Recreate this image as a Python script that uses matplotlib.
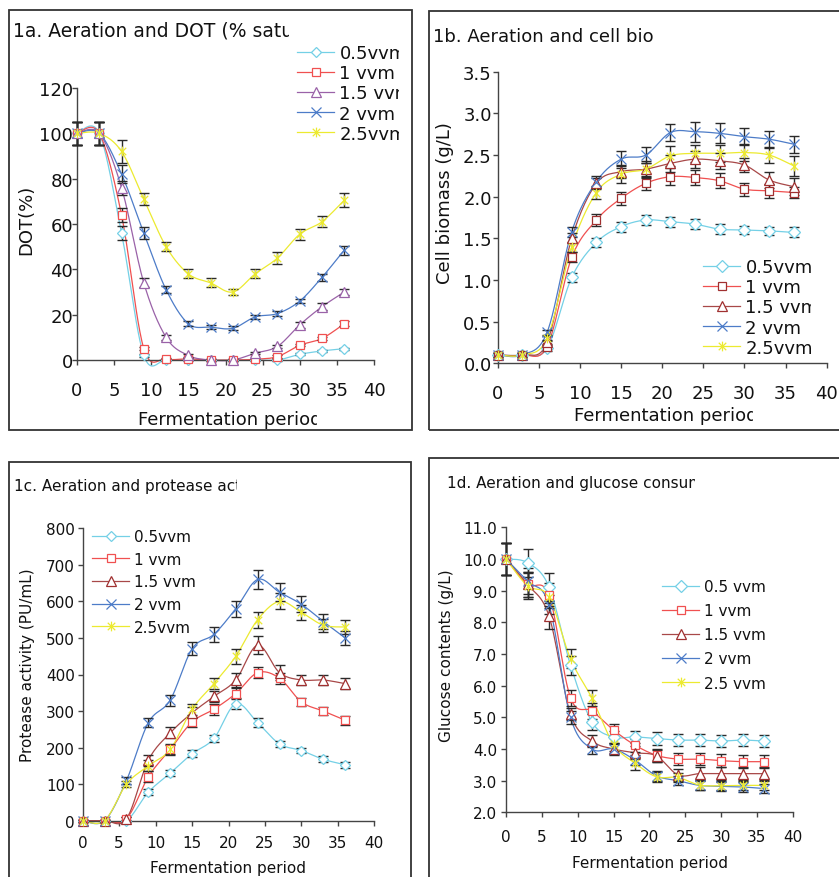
import numpy as np
import matplotlib
matplotlib.use("Agg")
import matplotlib.pyplot as plt
from matplotlib.lines import Line2D
from matplotlib.path import Path
from matplotlib.patches import Rectangle
from matplotlib.transforms import Bbox, TransformedBbox

plt.rcParams['font.family'] = ['DejaVu Sans']

W, H, DPI = 839, 878, 100

hours = [0, 3, 6, 9, 12, 15, 18, 21, 24, 27, 30, 33, 36]
labels_abc = ['0.5vvm', '1 vvm', '1.5 vvm', '2 vvm', '2.5vvm']
labels_d = ['0.5 vvm', '1 vvm', '1.5 vvm', '2 vvm', '2.5 vvm']

# ---- 1a: DOT (%)
dot_05 = [100, 100, 56, 2, 0, 0, 0, 0, 0, 0, 2.5, 4, 5]
dot_1 = [100, 100, 64, 5, 0.5, 0.5, 0, 0, 0.3, 1.5, 6.5, 9.5, 16]
dot_15 = [100, 100, 76, 34, 10, 2, 0, 0, 3, 6, 15.5, 23.5, 30]
dot_2 = [100, 100, 82, 56, 31, 16, 14.5, 14, 19, 20.5, 26, 36.5, 48.5]
dot_25 = [100, 100, 92, 71, 50, 38, 34, 30, 38, 45, 55.5, 61, 70.5]
dot_05_err = [5, 5, 3, 0.5, 0.3, 0.3, 0.3, 0.3, 0.3, 0.3, 0.5, 0.5, 0.5]
dot_1_err = [5, 5, 3, 0.7, 0.3, 0.3, 0.3, 0.3, 0.3, 0.5, 0.5, 0.7, 1]
dot_15_err = [5, 5, 3, 2, 1, 0.5, 0.3, 0.3, 0.5, 0.5, 1.2, 1.5, 1.2]
dot_2_err = [5, 5, 4, 2.5, 1.5, 1, 1, 0.8, 1, 1, 1, 1.5, 2]
dot_25_err = [5, 5, 5, 2.5, 2, 2, 2, 1.5, 2, 2.5, 2.5, 2.5, 3]

# ---- 1b: cell biomass (g/L)
bio_05 = [0.1, 0.1, 0.18, 1.03, 1.45, 1.64, 1.72, 1.70, 1.67, 1.61, 1.60, 1.59, 1.57]
bio_1 = [0.1, 0.1, 0.2, 1.27, 1.72, 1.98, 2.16, 2.24, 2.23, 2.19, 2.09, 2.07, 2.05]
bio_15 = [0.1, 0.1, 0.25, 1.5, 2.16, 2.3, 2.33, 2.4, 2.45, 2.43, 2.38, 2.2, 2.12]
bio_2 = [0.1, 0.1, 0.37, 1.58, 2.18, 2.45, 2.5, 2.77, 2.78, 2.76, 2.72, 2.69, 2.63]
bio_25 = [0.1, 0.1, 0.3, 1.4, 2.05, 2.27, 2.33, 2.49, 2.52, 2.52, 2.53, 2.5, 2.37]
bio_05_err = [0.02, 0.02, 0.03, 0.05, 0.05, 0.06, 0.06, 0.06, 0.06, 0.06, 0.05, 0.05, 0.06]
bio_1_err = [0.02, 0.02, 0.03, 0.06, 0.07, 0.08, 0.08, 0.1, 0.09, 0.09, 0.08, 0.08, 0.07]
bio_15_err = [0.02, 0.02, 0.03, 0.06, 0.07, 0.08, 0.08, 0.1, 0.1, 0.1, 0.08, 0.1, 0.1]
bio_2_err = [0.02, 0.02, 0.03, 0.06, 0.07, 0.1, 0.1, 0.1, 0.12, 0.12, 0.1, 0.1, 0.1]
bio_25_err = [0.02, 0.02, 0.03, 0.06, 0.08, 0.1, 0.1, 0.12, 0.1, 0.1, 0.1, 0.1, 0.12]

# ---- 1c: protease activity (PU/mL)
prot_05 = [0, 0, 0, 78, 130, 183, 225, 320, 268, 210, 192, 168, 153]
prot_1 = [0, 0, 5, 120, 195, 270, 305, 348, 405, 390, 325, 300, 275]
prot_15 = [0, 0, 5, 165, 240, 295, 340, 385, 480, 405, 385, 385, 375]
prot_2 = [0, 0, 110, 268, 330, 470, 510, 580, 660, 625, 592, 545, 500]
prot_25 = [0, 0, 100, 150, 195, 305, 375, 450, 550, 600, 570, 535, 530]
prot_05_err = [3, 3, 3, 8, 8, 10, 10, 15, 12, 8, 8, 8, 8]
prot_1_err = [3, 3, 5, 15, 12, 15, 15, 15, 15, 15, 12, 12, 12]
prot_15_err = [3, 3, 5, 15, 15, 15, 15, 20, 25, 20, 15, 15, 15]
prot_2_err = [3, 3, 10, 12, 15, 18, 20, 22, 25, 25, 22, 20, 20]
prot_25_err = [3, 3, 8, 15, 15, 15, 15, 20, 22, 22, 20, 18, 18]

# ---- 1d: glucose contents (g/L)
glu_05 = [10.0, 9.88, 9.12, 6.65, 4.85, 4.38, 4.38, 4.33, 4.28, 4.28, 4.25, 4.28, 4.25]
glu_1 = [10.0, 9.2, 8.85, 5.62, 5.2, 4.6, 4.12, 3.8, 3.68, 3.68, 3.63, 3.6, 3.6]
glu_15 = [10.0, 9.2, 8.2, 5.1, 4.25, 4.0, 3.88, 3.78, 3.18, 3.22, 3.22, 3.22, 3.22]
glu_2 = [10.0, 9.3, 8.55, 5.0, 4.0, 4.0, 3.65, 3.15, 3.0, 2.85, 2.82, 2.8, 2.75]
glu_25 = [10.0, 9.15, 8.8, 6.85, 5.6, 4.15, 3.55, 3.12, 3.1, 2.86, 2.84, 2.85, 2.85]
glu_05_err = [0.5, 0.45, 0.45, 0.3, 0.25, 0.2, 0.2, 0.2, 0.2, 0.2, 0.2, 0.2, 0.2]
glu_1_err = [0.5, 0.4, 0.4, 0.25, 0.25, 0.2, 0.2, 0.2, 0.2, 0.2, 0.2, 0.2, 0.2]
glu_15_err = [0.5, 0.4, 0.4, 0.2, 0.2, 0.2, 0.2, 0.2, 0.2, 0.2, 0.2, 0.2, 0.2]
glu_2_err = [0.5, 0.4, 0.3, 0.2, 0.15, 0.15, 0.15, 0.15, 0.15, 0.15, 0.15, 0.15, 0.15]
glu_25_err = [0.5, 0.4, 0.3, 0.3, 0.25, 0.2, 0.2, 0.15, 0.15, 0.15, 0.15, 0.15, 0.15]

C_CYAN = '#74d0e6'
C_RED = '#f05050'
C_PURPLE = '#9a62a8'
C_BROWN = '#a84848'
C_BLUE = '#4d7cc8'
C_YELLOW = '#ecea30'
ERR_C = '#2a2a2a'

ast_path = Path([(-1, -1), (1, 1), (-1, 1), (1, -1), (0, -1.3), (0, 1.3)],
                [Path.MOVETO, Path.LINETO, Path.MOVETO, Path.LINETO, Path.MOVETO, Path.LINETO])


def smooth(x, y, n=24):
    P = np.column_stack([np.asarray(x, float), np.asarray(y, float)])
    P = np.vstack([P[0], P, P[-1]])
    out = []
    for i in range(1, len(P) - 2):
        p0, p1, p2, p3 = P[i - 1], P[i], P[i + 1], P[i + 2]
        b1 = p1 + (p2 - p0) / 6.0
        b2 = p2 - (p3 - p1) / 6.0
        t = np.linspace(0, 1, n)[:, None]
        seg = ((1 - t) ** 3) * p1 + 3 * ((1 - t) ** 2) * t * b1 + 3 * (1 - t) * t ** 2 * b2 + t ** 3 * p2
        out.append(seg if i == 1 else seg[1:])
    s = np.vstack(out)
    return s[:, 0], s[:, 1]


fig = plt.figure(figsize=(W / DPI, H / DPI), dpi=DPI)
PT = 72.0 / DPI  # points per pixel


def px_axes(x0, x1, ytop, ybot):
    return fig.add_axes([x0 / W, 1 - ybot / H, (x1 - x0) / W, (ybot - ytop) / H])


def fig_clip(x0, y0, x1, y1):
    return TransformedBbox(Bbox.from_extents(x0 / W, 1 - y1 / H, x1 / W, 1 - y0 / H), fig.transFigure)


def fig_text(x, y, s, size, clip=None, rotation=0, ha='left', va='center'):
    t = fig.text(x / W, 1 - y / H, s, fontsize=size, rotation=rotation, ha=ha, va=va, color='#111111')
    if clip is not None:
        t.set_clip_box(clip)
        t.set_clip_on(True)
    return t


def style_axes(ax, xlim, ylim, yticks, yfmt, tsize, xpad_px, ypad_px):
    ax.set_xlim(*xlim)
    ax.set_ylim(*ylim)
    ax.set_xticks(np.arange(0, 41, 5))
    ax.set_yticks(yticks)
    ax.set_yticklabels([yfmt.format(v) for v in yticks])
    for s in ['top', 'right']:
        ax.spines[s].set_visible(False)
    for s in ['left', 'bottom']:
        ax.spines[s].set_color('#444444')
        ax.spines[s].set_linewidth(1.0)
    ax.tick_params(axis='both', direction='out', length=5 * PT, width=1.0, color='#444444',
                   labelsize=tsize, labelcolor='#111111')
    ax.tick_params(axis='x', pad=xpad_px * PT)
    ax.tick_params(axis='y', pad=ypad_px * PT)
    ax.patch.set_alpha(0)


def draw_series(ax, vals, errs, colors, markers, msize, edgecols, lw=0.9):
    for v, e, c, m, ms, ec in zip(vals, errs, colors, markers, msize, edgecols):
        sx, sy = smooth(hours, v)
        ax.plot(sx, sy, color=c, lw=lw, clip_on=False, zorder=2)
        ax.errorbar(hours, v, yerr=e, fmt='none', ecolor=ERR_C, elinewidth=1.0,
                    capsize=3.6, capthick=1.0, clip_on=False, zorder=3)
        ax.plot(hours, v, linestyle='none', marker=m, markersize=ms, markeredgecolor=ec,
                markerfacecolor='none' if m in ('x', ast_path) else 'white',
                markeredgewidth=0.9, clip_on=False, zorder=4)


def add_legend(ax, labels, colors, markers, msize, edgecols, size, x, y, spacing, hl=2.0, lw=0.9):
    handles = []
    for c, m, ms, ec in zip(colors, markers, msize, edgecols):
        handles.append(Line2D([], [], color=c, lw=lw, marker=m, markersize=ms, markeredgecolor=ec,
                              markerfacecolor='none' if m in ('x', ast_path) else 'white',
                              markeredgewidth=0.9))
    leg = ax.legend(handles, labels, loc='upper left', bbox_to_anchor=(x / W, 1 - y / H),
                    bbox_transform=fig.transFigure, frameon=False, fontsize=size,
                    borderpad=0, borderaxespad=0, handlelength=hl, handletextpad=0.3,
                    labelspacing=spacing)
    for t in leg.get_texts():
        t.set_color('#111111')
    return leg


markers = ['D', 's', '^', 'x', ast_path]

# panel frames
for (x0, y0, x1, y1) in [(9, 11, 412, 431), (429, 12, 850, 431), (9, 463, 411, 890), (429, 459, 850, 890)]:
    fig.add_artist(Rectangle((x0 / W, 1 - y1 / H), (x1 - x0) / W, (y1 - y0) / H,
                             transform=fig.transFigure, fill=False, edgecolor='#333333', lw=1.3))

# ---------------- 1a
axa = px_axes(77, 374, 89, 361)
style_axes(axa, (0, 40), (0, 120), np.arange(0, 121, 20), '{:d}', 13, 16, -1)
cols_a = [C_CYAN, C_RED, C_PURPLE, C_BLUE, C_YELLOW]
edge_a = [C_CYAN, C_RED, C_PURPLE, C_BLUE, C_YELLOW]
ms_a = [5, 5.5, 7, 7, 7]
draw_series(axa, [dot_05, dot_1, dot_15, dot_2, dot_25],
            [dot_05_err, dot_1_err, dot_15_err, dot_2_err, dot_25_err], cols_a, markers, ms_a, edge_a)
lega = add_legend(axa, labels_abc, cols_a, markers, ms_a, edge_a, 13, 297, 45, 0.12, hl=2.05)
ca = fig_clip(9, 11, 399, 431)
for t in lega.get_texts():
    t.set_clip_box(ca); t.set_clip_on(True)
fig_text(13, 31, '1a. Aeration and DOT (% saturation)', 13.5, clip=fig_clip(9, 11, 289, 431))
fig_text(138, 420, 'Fermentation period (h)', 13, clip=fig_clip(9, 11, 317, 431))
fig_text(26, 220, 'DOT(%)', 13, rotation=90, ha='center')

# ---------------- 1b
axb = px_axes(497.7, 826.7, 72.7, 364.3)
style_axes(axb, (0, 40), (0, 3.5), np.arange(0, 3.51, 0.5), '{:.1f}', 13, 16, 1)
cols_b = [C_CYAN, C_RED, C_BROWN, C_BLUE, C_YELLOW]
edge_b = [C_CYAN, '#a03030', '#a03030', C_BLUE, C_YELLOW]
ms_b = [6, 5.5, 6.5, 6.5, 7]
draw_series(axb, [bio_05, bio_1, bio_15, bio_2, bio_25],
            [bio_05_err, bio_1_err, bio_15_err, bio_2_err, bio_25_err], cols_b, markers, ms_b, edge_b)
legb = add_legend(axb, labels_abc, cols_b, markers, ms_b, edge_b, 13, 703, 259, 0.12, hl=2.05)
cb = fig_clip(429, 12, 811, 431)
for t in legb.get_texts():
    t.set_clip_box(cb); t.set_clip_on(True)
fig_text(433, 37, '1b. Aeration and cell biomass', 13, clip=fig_clip(429, 12, 655, 431))
fig_text(574, 416, 'Fermentation period (h)', 13, clip=fig_clip(429, 12, 753, 431))
fig_text(445, 203, 'Cell biomass (g/L)', 13, rotation=90, ha='center')

# ---------------- 1c
axc = px_axes(82.7, 374.3, 529.3, 821.7)
style_axes(axc, (0, 40), (0, 800), np.arange(0, 801, 100), '{:d}', 11, 9, 2.7)
cols_c = [C_CYAN, C_RED, C_BROWN, C_BLUE, C_YELLOW]
edge_c = [C_CYAN, C_RED, '#a03030', C_BLUE, C_YELLOW]
ms_c = [5, 5.5, 6.5, 6.5, 7]
draw_series(axc, [prot_05, prot_1, prot_15, prot_2, prot_25],
            [prot_05_err, prot_1_err, prot_15_err, prot_2_err, prot_25_err], cols_c, markers, ms_c, edge_c)
add_legend(axc, labels_abc, cols_c, markers, ms_c, edge_c, 11, 92, 530, 0.5, hl=2.45)
fig_text(14, 487, '1c. Aeration and protease activity', 11, clip=fig_clip(9, 463, 237, 878))
fig_text(150, 869, 'Fermentation period (h)', 11, clip=fig_clip(9, 463, 310, 878))
fig_text(28, 665, 'Protease activity (PU/mL)', 11, rotation=90, ha='center')

# ---------------- 1d
axd = px_axes(506, 792.7, 528.3, 813.3)
style_axes(axd, (0, 40), (2, 11), np.arange(2, 11.01, 1.0), '{:.1f}', 11, 12, 4)
cols_d = [C_CYAN, C_RED, C_BROWN, C_BLUE, C_YELLOW]
edge_d = [C_CYAN, C_RED, '#a03030', C_BLUE, C_YELLOW]
ms_d = [6, 5.5, 6.5, 6.5, 7]
draw_series(axd, [glu_05, glu_1, glu_15, glu_2, glu_25],
            [glu_05_err, glu_1_err, glu_15_err, glu_2_err, glu_25_err], cols_d, markers, ms_d, edge_d)
add_legend(axd, labels_d, cols_d, markers, ms_d, edge_d, 11, 662, 580, 0.6, hl=2.45)
fig_text(447, 484, '1d. Aeration and glucose consumption', 11, clip=fig_clip(429, 459, 695, 878))
fig_text(572, 864, 'Fermentation period (h)', 11, clip=fig_clip(429, 459, 731, 878))
fig_text(447, 656, 'Glucose contents (g/L)', 11, rotation=90, ha='center')

fig.savefig('out.png', dpi=DPI)
